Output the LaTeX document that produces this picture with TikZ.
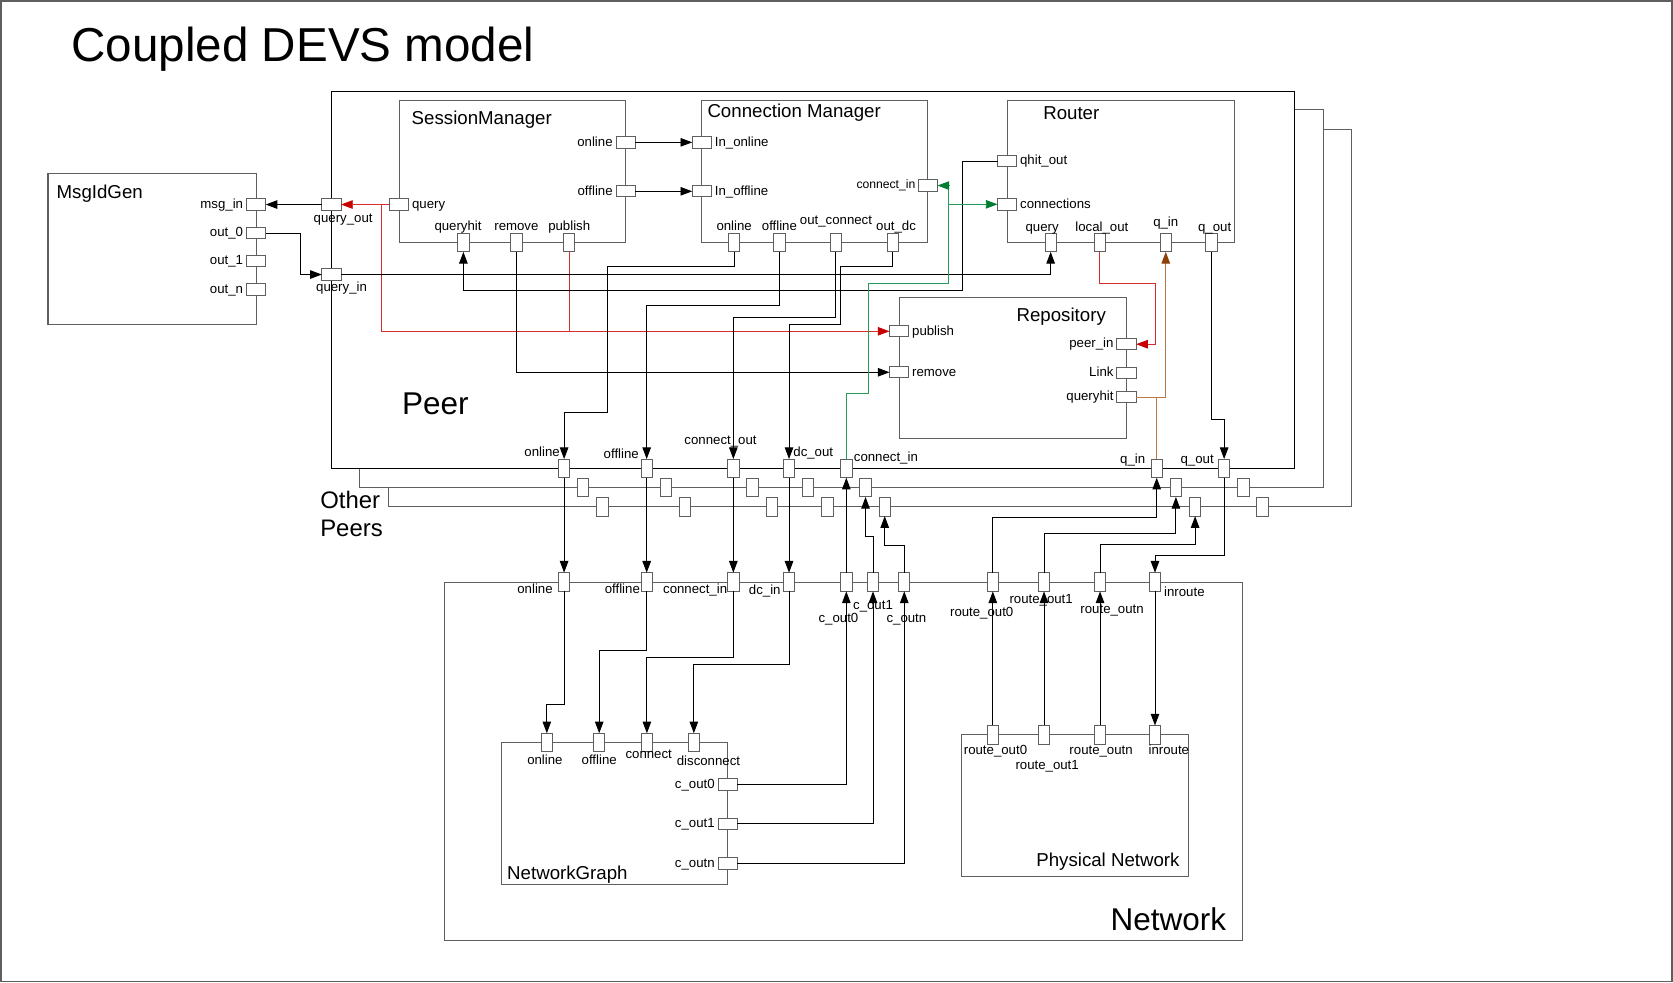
\documentclass[tikz,border=0pt]{standalone}
\usepackage{fontspec}
\setmainfont{Liberation Sans}
\usetikzlibrary{arrows.meta}

\definecolor{boxgray}{RGB}{95,95,95}
\definecolor{cred}{RGB}{215,45,45}
\definecolor{credh}{RGB}{200,0,0}
\definecolor{cgrn}{RGB}{40,155,90}
\definecolor{cgrnh}{RGB}{0,125,50}
\definecolor{cbrn}{RGB}{190,120,70}
\definecolor{cbrnh}{RGB}{140,65,10}

\tikzset{
  box/.style={draw=boxgray, line width=1pt, inner sep=0pt, outer sep=0pt, anchor=north west},
  hport/.style={draw=boxgray, fill=white, line width=0.9pt, minimum width=18pt, minimum height=10.6pt, inner sep=0pt, outer sep=0pt},
  vport/.style={draw=boxgray, fill=white, line width=0.9pt, minimum width=10.6pt, minimum height=17.5pt, inner sep=0pt, outer sep=0pt},
  lbl/.style={font=\fontsize{12.4}{14}\selectfont, inner sep=0pt},
  ttl/.style={font=\fontsize{17.5}{20}\selectfont, inner sep=0pt, anchor=base west},
  big/.style={font=\fontsize{29.5}{33}\selectfont, inner sep=0pt},
  lw/.style={label={[lbl,anchor=base east,xshift=-3pt,yshift=-3.5pt]west:#1}},
  le/.style={label={[lbl,anchor=base west,xshift=3pt,yshift=-3.5pt]east:#1}},
  la/.style={label={[lbl,anchor=base,yshift=2.5pt]north:#1}},
  con/.style={draw=black, line width=0.9pt},
  arr/.style={con, -{Triangle[length=11pt,width=8pt]}},
  redline/.style={draw=cred, line width=0.9pt},
  redarr/.style={redline, -{Triangle[length=11pt,width=8pt,color=credh]}},
  grnarr/.style={draw=cgrn, line width=0.9pt, -{Triangle[length=11pt,width=8pt,color=cgrnh]}},
  brnline/.style={draw=cbrn, line width=0.9pt},
  brnarr/.style={brnline, -{Triangle[length=11pt,width=8pt,color=cbrnh]}}
}

\begin{document}
\begin{tikzpicture}[x=1pt,y=-1pt]
\useasboundingbox (0,0) rectangle (1568,921);
\draw[boxgray, line width=1.2pt] (1,1) rectangle (1567,920);
\node[font=\fontsize{44.6}{50}\selectfont, inner sep=0pt, anchor=base west] (title) at (66.9,57.8) {Coupled DEVS model};

% other peers
\draw[boxgray, line width=1pt] (337,439) -- (337,457) -- (1240,457) -- (1240,103) -- (1213,103);
\draw[boxgray, line width=1pt] (364,457) -- (364,475) -- (1267,475) -- (1267,121) -- (1240,121);
\node[font=\fontsize{22.4}{26}\selectfont, inner sep=0pt, anchor=base west] (other) at (300,476.3) {Other};
\node[font=\fontsize{22.4}{26}\selectfont, inner sep=0pt, anchor=base west] (peers) at (300,502.9) {Peers};

% boxes
\node[box, draw=black, minimum width=902pt, minimum height=353pt] (peer) at (311,86) {};
\node[box, minimum width=195pt, minimum height=141.5pt] (msgid) at (45,163) {};
\node[box, minimum width=212.4pt, minimum height=133pt] (sm) at (374,94.3) {};
\node[box, minimum width=211.8pt, minimum height=133pt] (cm) at (657.8,94.3) {};
\node[box, minimum width=212.7pt, minimum height=133pt] (router) at (943.9,94.3) {};
\node[box, minimum width=213.1pt, minimum height=132.2pt] (repo) at (842.7,278.6) {};
\node[box, minimum width=748.2pt, minimum height=336pt] (net) at (416.3,545.5) {};
\node[box, minimum width=212.2pt, minimum height=132.7pt] (ng) at (469.8,695.9) {};
\node[box, minimum width=212pt, minimum height=132.5pt] (phys) at (901.5,688.7) {};

% titles
\node[ttl] (msgidt) at (52.9,186.4) {MsgIdGen};
\node[ttl] (smt) at (385.7,117.1) {SessionManager};
\node[ttl] (cmt) at (662.9,110) {Connection Manager};
\node[ttl] (routert) at (977.6,111.8) {Router};
\node[ttl] (repot) at (952.6,301.4) {Repository};
\node[ttl] (ngt) at (475.2,823.9) {NetworkGraph};
\node[ttl, anchor=base east] (physt) at (1105.7,812.1) {Physical Network};
\node[big, anchor=base west] (peert) at (376.6,388.9) {Peer};
\node[big, anchor=base east] (nett) at (1149.4,872) {Network};

% MsgIdGen ports
\node[hport, lw=msg\_in] (msgin) at (240,191.7) {};
\node[hport, lw=out\_0] (out0) at (240,218.5) {};
\node[hport, lw=out\_1] (out1) at (240,244.7) {};
\node[hport, lw=out\_n] (outn) at (240,271.2) {};
% Peer inputs
\node[hport, label={[lbl,anchor=base,xshift=11pt,yshift=-12pt]south:query\_out}] (qout) at (310.6,191.7) {};
\node[hport, label={[lbl,anchor=base,xshift=9.5pt,yshift=-10.7pt]south:query\_in}] (qin) at (310.6,257.3) {};
% SessionManager ports
\node[hport, le=query] (smq) at (374,191.7) {};
\node[hport, lw=online] (smon) at (586.4,133.4) {};
\node[hport, lw=offline] (smoff) at (586.4,179.3) {};
\node[vport, label={[lbl,anchor=base,xshift=-5pt,yshift=2.5pt]north:queryhit}] (smqh) at (434.3,227.3) {};
\node[vport, la=remove] (smrm) at (484,227.3) {};
\node[vport, la=publish] (smpub) at (533.5,227.3) {};
% Connection Manager ports
\node[hport, le=In\_online] (cmion) at (657.8,133.4) {};
\node[hport, le=In\_offline] (cmioff) at (657.8,179.3) {};
\node[hport, label={[lbl,font=\fontsize{11.4}{13}\selectfont,anchor=base east,xshift=-2.5pt,yshift=-2.6pt]west:connect\_in}] (cmcin) at (869.6,173.9) {};
\node[vport, la=online] (cmon) at (688.1,227.3) {};
\node[vport, la=offline] (cmoff) at (730.5,227.3) {};
\node[vport, label={[lbl,anchor=base,yshift=8.4pt]north:out\_connect}] (cmoc) at (783.5,227.3) {};
\node[vport, label={[lbl,anchor=base,xshift=3pt,yshift=2.5pt]north:out\_dc}] (cmdc) at (836.8,227.3) {};
% Router ports
\node[hport, le=qhit\_out] (rqh) at (943.9,150.9) {};
\node[hport, le=connections] (rcon) at (943.9,191.5) {};
\node[vport, label={[lbl,anchor=base,xshift=-8pt,yshift=2pt]north:query}] (rq) at (984.7,227.3) {};
\node[vport, label={[lbl,anchor=base,xshift=2pt,yshift=2pt]north:local\_out}] (rlo) at (1030.7,227.3) {};
\node[vport, label={[lbl,anchor=base,yshift=6.5pt]north:q\_in}] (rqin) at (1092.6,227.3) {};
\node[vport, label={[lbl,anchor=base,xshift=3pt,yshift=2pt]north:q\_out}] (rqout) at (1135.4,227.3) {};
% Repository ports
\node[hport, le=publish] (rppub) at (842.7,310.5) {};
\node[hport, le=remove] (rprm) at (842.7,348.9) {};
\node[hport, lw=peer\_in] (rpin) at (1055.8,322.6) {};
\node[hport, lw=Link] (rplink) at (1055.8,349.5) {};
\node[hport, lw=queryhit] (rpqh) at (1055.8,372.3) {};
% Peer outputs
\node[vport, label={[lbl,anchor=base east,xshift=1.4pt,yshift=2.5pt]north west:online}] (pon) at (528.7,439) {};
\node[vport, label={[lbl,anchor=base east,xshift=-1.9pt,yshift=0.9pt]north west:offline}] (poff) at (606.1,439) {};
\node[vport, label={[lbl,anchor=base,xshift=-12pt,yshift=13.4pt]north:connect\_out}] (pco) at (687.3,439) {};
\node[vport, label={[lbl,anchor=base west,xshift=-1.4pt,yshift=2.4pt]north east:dc\_out}] (pdc) at (739.5,439) {};
\node[vport, label={[lbl,anchor=base west,xshift=1.6pt,yshift=-2.6pt]north east:connect\_in}] (pci) at (793.2,439) {};
\node[vport, label={[lbl,anchor=base east,xshift=-5.3pt,yshift=-4.4pt]north west:q\_in}] (pqin) at (1084.1,439) {};
\node[vport, label={[lbl,anchor=base east,xshift=-4.3pt,yshift=-4.4pt]north west:q\_out}] (pqout) at (1147.3,439) {};
% ports of the other peers
\foreach \px/\nm in {528.7/on,606.1/off,687.3/co,739.5/dc,793.2/ci,1084.1/qin,1147.3/qout}{
  \node[vport] (o2\nm) at (\px+18,457) {};
  \node[vport] (o3\nm) at (\px+36,475) {};
}
% Network ports
\node[vport, label={[lbl,anchor=base east,xshift=-5.2pt,yshift=-10.4pt]west:online}] (non) at (528.7,545.5) {};
\node[vport, label={[lbl,anchor=base east,xshift=-0.9pt,yshift=-10.4pt]west:offline}] (noff) at (606.1,545.5) {};
\node[vport, label={[lbl,anchor=base east,xshift=-0.3pt,yshift=-10.4pt]west:connect\_in}] (nci) at (687.3,545.5) {};
\node[vport, label={[lbl,anchor=base east,xshift=-2.4pt,yshift=-12pt]west:dc\_in}] (ndc) at (739.5,545.5) {};
\node[vport, label={[lbl,anchor=base,xshift=-7.4pt,yshift=-29.6pt]south:c\_out0}] (c0) at (793.2,545.5) {};
\node[vport, label={[lbl,anchor=base,yshift=-17.1pt]south:c\_out1}] (c1) at (818.2,545.5) {};
\node[vport, label={[lbl,anchor=base,xshift=2pt,yshift=-29pt]south:c\_outn}] (cn) at (847.5,545.5) {};
\node[vport, label={[lbl,anchor=base,xshift=-10.4pt,yshift=-24pt]south:route\_out0}] (ro0) at (930.5,545.5) {};
\node[vport, label={[lbl,anchor=base,xshift=-2.7pt,yshift=-11.6pt]south:route\_out1}] (ro1) at (978.5,545.5) {};
\node[vport, label={[lbl,anchor=base,xshift=11.3pt,yshift=-20.3pt]south:route\_outn}] (ron) at (1031,545.5) {};
\node[vport, label={[lbl,anchor=base west,xshift=3.1pt,yshift=-4.6pt]south east:inroute}] (inr) at (1082.5,545.5) {};
% NetworkGraph ports
\node[vport, label={[lbl,anchor=base,xshift=-1.8pt,yshift=-11.3pt]south:online}] (ngon) at (512.5,696) {};
\node[vport, label={[lbl,anchor=base,yshift=-11.3pt]south:offline}] (ngoff) at (561.6,696) {};
\node[vport, label={[lbl,anchor=base,xshift=1.7pt,yshift=-5.7pt]south:connect}] (ngcon) at (606.3,696) {};
\node[vport, label={[lbl,anchor=base,xshift=13.7pt,yshift=-12.9pt]south:disconnect}] (ngdis) at (650.3,696) {};
\node[hport, lw=c\_out0] (ngc0) at (682,735.1) {};
\node[hport, lw=c\_out1] (ngc1) at (682,772.1) {};
\node[hport, lw=c\_outn] (ngcn) at (682,809.3) {};
% Physical Network ports
\node[vport, label={[lbl,anchor=base,xshift=2.5pt,yshift=-9.9pt]south:route\_out0}] (pro0) at (930.5,688.7) {};
\node[vport, label={[lbl,anchor=base,xshift=2.9pt,yshift=-23.8pt]south:route\_out1}] (pro1) at (978.5,688.7) {};
\node[vport, label={[lbl,anchor=base,xshift=1pt,yshift=-9.9pt]south:route\_outn}] (pron) at (1031,688.7) {};
\node[vport, label={[lbl,anchor=base,xshift=13pt,yshift=-9.9pt]south:inroute}] (pinr) at (1082.5,688.7) {};

% MsgIdGen couplings
\draw[arr] (qout) -- (msgin);
\draw[arr] (out0) -| (282,257.3) -- (qin);
% query / publish
\coordinate (qjoin) at (358,191.7);
\draw[redarr] (smq) -- (qout);
\draw[redarr] (qjoin) |- (rppub);
\draw[redline] (smpub) -- (smpub |- rppub);
% session manager
\draw[arr] (smon) -- (cmion);
\draw[arr] (smoff) -- (cmioff);
\draw[arr] (smrm) |- (rprm);
\draw[arr] (rqh) -| (902,272.6) -| (smqh);
\draw[arr] (qin) -| (rq);
% connections
\coordinate (gjoin) at (889,191.5);
\draw[grnarr] (pci) |- (813.6,368.5) |- (889,266) |- (cmcin);
\draw[grnarr] (gjoin) -- (rcon);
% router and repository
\draw[redarr] (rlo) |- (1083,266) |- (rpin);
\draw[brnarr] (rpqh) -| (rqin);
\draw[brnline] (pqin |- rpqh) -- (pqin);
\draw[arr] (rqout) |- (1147.3,392.9) -- (pqout);
% connection manager to peer outputs
\draw[arr] (cmon) |- (569,250) -- (569,386.4) -| (pon);
\draw[arr] (cmoff) |- (606.1,286.7) -- (poff);
\draw[arr] (cmoc) |- (687.3,297.6) -- (pco);
\draw[arr] (cmdc) |- (787.9,249.9) |- (739.5,304.5) -- (pdc);
% peer <-> network
\draw[arr] (pon) -- (non);
\draw[arr] (poff) -- (noff);
\draw[arr] (pco) -- (nci);
\draw[arr] (pdc) -- (ndc);
\draw[arr] (c0) -- (pci);
\draw[arr] (c1) |- (811.2,502.9) -- (o2ci);
\draw[arr] (cn) |- (829.2,511.6) -- (o3ci);
\draw[arr] (ro0) |- (1084.1,485) -- (pqin);
\draw[arr] (ro1) |- (1102.1,499.7) -- (o2qin);
\draw[arr] (ron) |- (1120.1,510) -- (o3qin);
\draw[arr] (pqout) |- (1082.5,520.7) -- (inr);
% inside network
\draw[arr] (non) -- (528.7,660.6) -| (ngon);
\draw[arr] (noff) -- (606.1,609.2) -| (ngoff);
\draw[arr] (nci) -- (687.3,615.9) -| (ngcon);
\draw[arr] (ndc) -- (739.5,623.1) -| (ngdis);
\draw[arr] (ngc0) -| (c0);
\draw[arr] (ngc1) -| (c1);
\draw[arr] (ngcn) -| (cn);
\draw[arr] (pro0) -- (ro0);
\draw[arr] (pro1) -- (ro1);
\draw[arr] (pron) -- (ron);
\draw[arr] (inr) -- (pinr);
\end{tikzpicture}
\end{document}
